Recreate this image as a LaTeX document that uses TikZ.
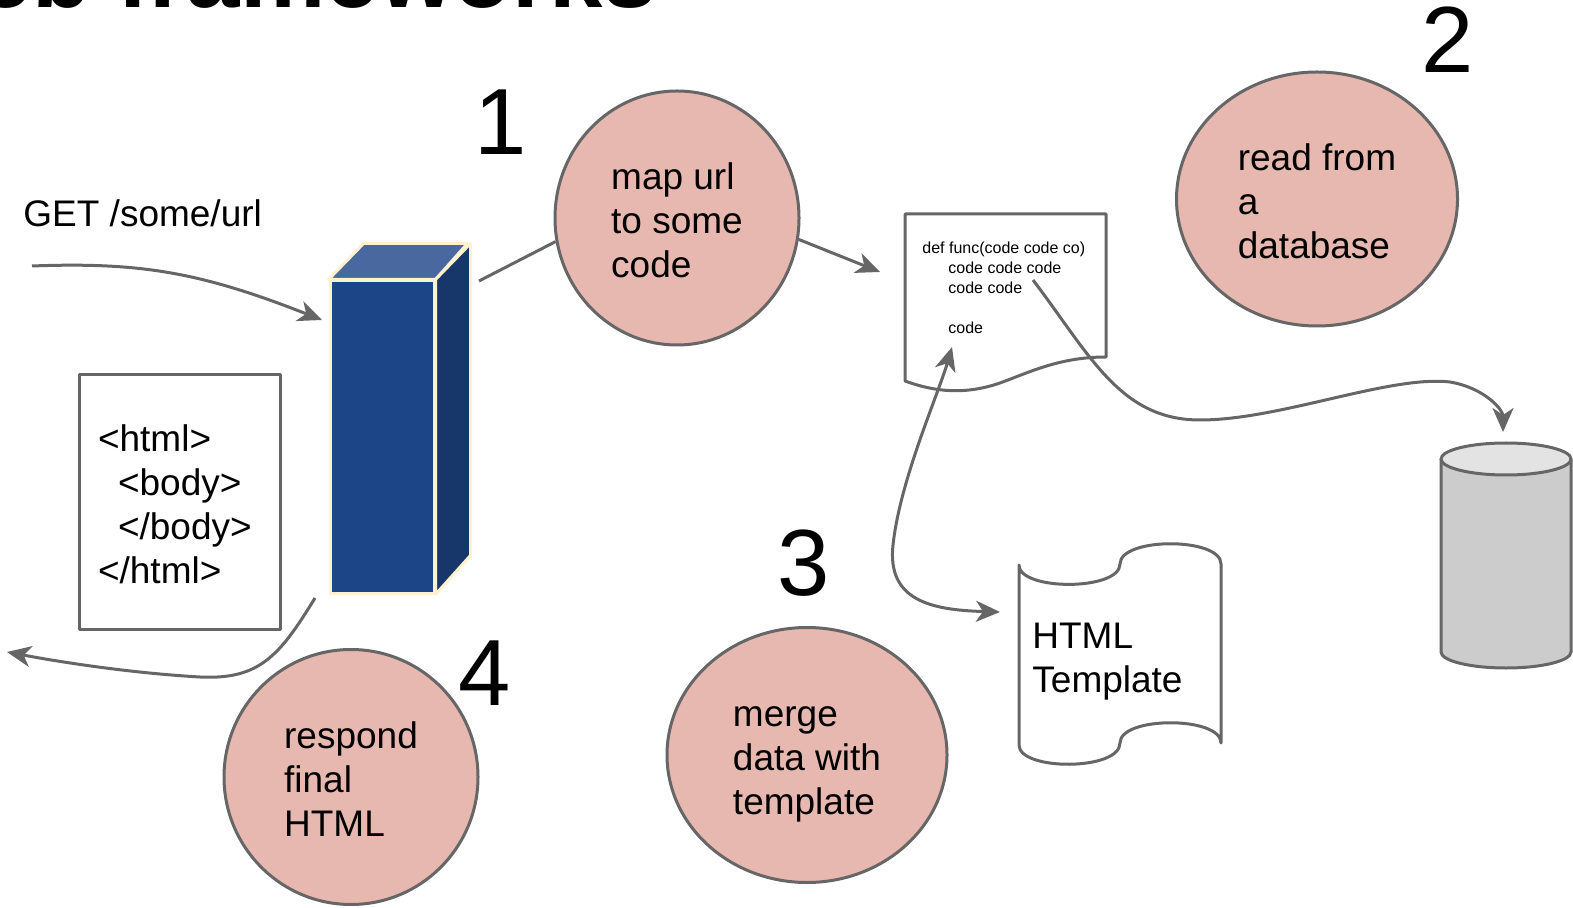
\documentclass[tikz,border=0pt]{standalone}
\usepackage{fontspec}
\setmainfont{Liberation Sans}
\usetikzlibrary{shapes.geometric, arrows.meta, positioning}
\definecolor{bubblefill}{HTML}{E6B8AF}
\definecolor{linegray}{HTML}{666666}
\definecolor{frontblue}{HTML}{1C4587}
\definecolor{topblue}{HTML}{48689F}
\definecolor{sideblue}{HTML}{17376A}
\definecolor{cream}{HTML}{FFF2CC}
\definecolor{dbbody}{HTML}{CCCCCC}
\definecolor{dbtop}{HTML}{E3E3E3}
\newcommand{\topstrut}{\rule{0pt}{19.8pt}}
\newcommand{\botstrut}{\rule[-3.9pt]{0pt}{0pt}}

\begin{document}
\begin{tikzpicture}[x=0.5pt, y=-0.5pt,
    every node/.style={font=\fontsize{18.5}{22}\selectfont, inner sep=0pt},
    bubble/.style={ellipse, draw=linegray, line width=1.5pt, fill=bubblefill, align=left},
    num/.style={font=\fontsize{47}{50}\selectfont},
    server/.style={rectangle, fill=frontblue, draw=cream, line width=1.5pt, minimum width=52pt, minimum height=156pt},
    face/.style={draw=cream, line width=1.5pt, line join=round},
    outline/.style={draw=linegray, line width=1.5pt, line join=round},
    >={Stealth[length=12pt, width=10.5pt, inset=3.5pt]},
    conn/.style={draw=linegray, line width=1.5pt, ->},
    plain/.style={draw=linegray, line width=1.5pt}]

\useasboundingbox (0,0) rectangle (1573,908);

% Title (cut off at the top)
\node[font=\fontsize{48}{50}\selectfont\bfseries, anchor=base east] (title) at (657,8) {Web frameworks};

% Request
\node[anchor=base west] (get) at (23,227) {GET /some/url};

% Server box
\node[server] (server) at (382,437) {};
\filldraw[face, fill=topblue] (server.north west) -- ++(35,-36) -- ++(104,0) -- (server.north east) -- cycle;
\filldraw[face, fill=sideblue] (server.north east) -- ++(35,-36) -- ++(0,312) -- (server.south east) -- cycle;

% Response page
\node[rectangle, outline, fill=white, minimum width=100.5pt, minimum height=127pt, text width=81.5pt,
      align=left] (htmlbox) at (179.5,502)
      {\topstrut<html>\\\hspace*{10pt}<body>\\\hspace*{10pt}</body>\\</html>\botstrut};

% Steps
\node[bubble, minimum width=122pt, minimum height=127pt] (map) at (677,218) {\topstrut map url\\to some\\code\botstrut};
\node[bubble, minimum width=140.5pt, minimum height=127pt] (read) at (1317,199) {\topstrut read from\\a\\database\botstrut};
\node[bubble, minimum width=140pt, minimum height=127.5pt] (merge) at (807,755) {\topstrut merge\\data with\\template\botstrut};
\node[bubble, minimum width=127pt, minimum height=127.5pt] (respond) at (351,777) {\topstrut respond\\final\\HTML\botstrut};

\node[num] (one) at (501,122) {1};
\node[num] (two) at (1448,40) {2};
\node[num] (three) at (804,563) {3};
\node[num] (four) at (485,673) {4};

% Code page
\filldraw[outline, fill=white] (905,214) -- (1106,214) -- (1106,357)
    .. controls (1060,357) and (1030,372) .. (1000,383)
    .. controls (965,395) and (935,392) .. (905,381) -- cycle;
\node[anchor=north west, align=left, font=\fontsize{8}{10}\selectfont] (code) at (922,242)
    {def func(code code co)\\\hspace*{13pt}code code code\\\hspace*{13pt}code code\\[10pt]\hspace*{13pt}code};

% HTML template scroll
\filldraw[outline, fill=white] (1019,565)
    .. controls (1019,591) and (1120,591) .. (1120,564)
    .. controls (1120,537) and (1221,537) .. (1221,564)
    -- (1221,743)
    .. controls (1221,716) and (1120,716) .. (1120,743)
    .. controls (1120,771) and (1019,771) .. (1019,745) -- cycle;
\node[anchor=west, align=left] (tmpl) at (1032,662) {HTML\\Template};

% Database
\filldraw[outline, fill=dbbody] (1441,459) -- (1441,652)
    .. controls (1441,660.8) and (1470.1,668) .. (1506,668)
    .. controls (1541.9,668) and (1571,660.8) .. (1571,652) -- (1571,459) -- cycle;
\filldraw[outline, fill=dbtop] (1506,459) ellipse [x radius=32.5pt, y radius=8pt];

% Connector ends
\coordinate (getin) at (32,266);
\coordinate (srvin) at (322,320);
\coordinate (srvout) at (479,281);
\coordinate (codein) at (880,272);
\coordinate (codeout) at (1033,280);
\coordinate (dbin) at (1503,432);
\coordinate (codeback) at (952,347);
\coordinate (tmplin) at (1000,612);
\coordinate (srvbot) at (315,598);
\coordinate (clientout) at (7,652);

% Arrows
\draw[conn] (getin) .. controls (140,262) and (200,272) .. (srvin);
\draw[plain] (srvout) -- (map.191);
\draw[conn] (map.350) -- (codein);
\draw[conn] (codeout) .. controls (1090,355) and (1120,420) .. (1200,420)
    .. controls (1280,420) and (1390,375) .. (1450,382)
    .. controls (1485,388) and (1503,410) .. (dbin);
\draw[conn, <->] (codeback) .. controls (938,395) and (900,480) .. (893,545)
    .. controls (887,600) and (930,610) .. (tmplin);
\draw[conn] (srvbot) .. controls (280,655) and (260,680) .. (200,677)
    .. controls (130,673) and (60,662) .. (clientout);

\end{tikzpicture}
\end{document}
